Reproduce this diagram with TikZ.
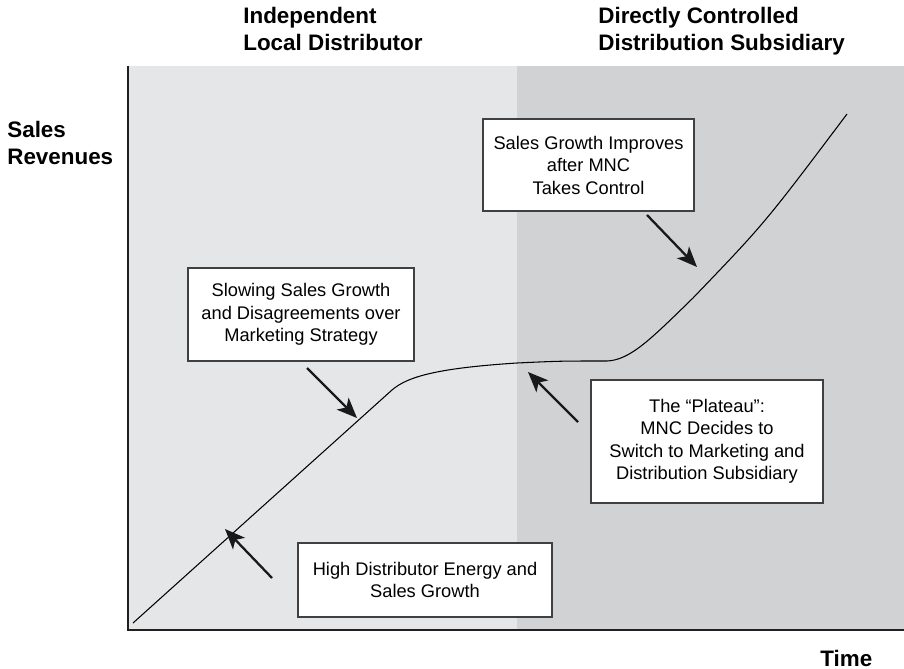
\documentclass[tikz,border=0pt]{standalone}
\usepackage{fontspec}
\setmainfont{Liberation Sans}
\usetikzlibrary{arrows.meta}

\definecolor{lightpanel}{HTML}{E5E6E8}
\definecolor{darkpanel}{HTML}{D1D2D4}
\definecolor{axisgray}{HTML}{231F20}

\tikzset{
    note/.style={draw=black!75, line width=0.6pt, fill=white, align=center, inner sep=0pt,
        font=\fontsize{10.4}{12.8}\selectfont},
    pointer/.style={-{Stealth[length=11.5pt, width=9.5pt, inset=3pt]}, line width=1.3pt, black!90},
    heading/.style={align=left, inner sep=0pt, font=\fontsize{12.75}{15.4}\selectfont\bfseries},
}

\begin{document}
\begin{tikzpicture}
            \useasboundingbox (0,0) rectangle (18.08,13.36);

            \fill[lightpanel] (2.56,0.76) rectangle (10.34,12.04);
            \fill[darkpanel] (10.34,0.76) rectangle (18.08,12.04);
            \draw[axisgray, line width=1.2pt] (2.56,12.04) -- (2.56,0.76) -- (18.08,0.76);

            \node[heading, anchor=north west] (independent) at (4.86,13.23) {Independent\\Local Distributor};
            \node[heading, anchor=north west] (subsidiary) at (11.96,13.23) {Directly Controlled\\Distribution Subsidiary};
            \node[heading, anchor=north west] (revenues) at (0.14,10.94) {Sales\\Revenues};
            \node[heading, anchor=base west] (time) at (16.40,0.04) {Time};

            % sales curve
            \draw[line width=0.6pt] (2.66,0.90) -- (7.84,5.56)
                .. controls (8.16,5.84) and (8.80,6.00) .. (10.34,6.10)
                .. controls (11.20,6.14) .. (12.14,6.14)
                .. controls (12.60,6.16) and (13.00,6.56) .. (13.86,7.40)
                .. controls (15.30,8.90) .. (16.94,11.08);

            \node[note, minimum width=4.22cm, minimum height=1.84cm] (improve) at (11.77,10.06)
                {Sales Growth Improves\\after MNC\\Takes Control};
            \node[note, minimum width=4.52cm, minimum height=1.86cm] (slow) at (6.02,7.07)
                {Slowing Sales Growth\\and Disagreements over\\Marketing Strategy};
            \node[note, minimum width=4.64cm, minimum height=2.46cm] (plateau) at (14.14,4.53)
                {The “Plateau”:\\MNC Decides to\\Switch to Marketing and\\Distribution Subsidiary};
            \node[note, minimum width=5.08cm, minimum height=1.48cm] (energy) at (8.50,1.76)
                {High Distributor Energy and\\Sales Growth};

            \coordinate (energytail) at (5.44,1.80);   \coordinate (energytip) at (4.50,2.78);
            \coordinate (slowtail) at (6.14,6.00);     \coordinate (slowtip) at (7.14,5.00);
            \coordinate (plateautail) at (11.56,4.92); \coordinate (plateautip) at (10.56,5.92);
            \coordinate (improvetail) at (12.94,9.06); \coordinate (improvetip) at (13.94,8.02);

            \foreach \part in {energy, slow, plateau, improve}
                \draw[pointer] (\part tail) -- (\part tip);
        \end{tikzpicture}
\end{document}
